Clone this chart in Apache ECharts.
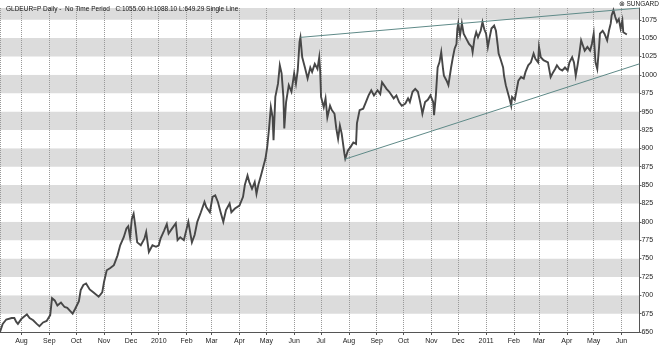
<!DOCTYPE html>
<html><head><meta charset="utf-8">
<script src="https://cdn.jsdelivr.net/npm/echarts@6/dist/echarts.min.js"></script>
<style>html,body{margin:0;padding:0;background:#fff}#c{width:660px;height:347px}</style>
</head><body><div id="c"></div>
<script>
const dates = [
'2009-07-08','2009-07-11','2009-07-15','2009-07-21','2009-07-24','2009-07-26','2009-07-28',
'2009-08-01','2009-08-07','2009-08-10','2009-08-14','2009-08-18','2009-08-21','2009-08-25','2009-08-29',
'2009-09-02','2009-09-04','2009-09-07','2009-09-10','2009-09-14','2009-09-18','2009-09-21','2009-09-27','2009-09-30',
'2009-10-04','2009-10-06','2009-10-09','2009-10-12','2009-10-16','2009-10-20','2009-10-26','2009-10-30',
'2009-11-01','2009-11-04','2009-11-08','2009-11-12','2009-11-16','2009-11-19','2009-11-23','2009-11-26','2009-11-28','2009-11-30',
'2009-12-02','2009-12-04','2009-12-06','2009-12-08','2009-12-12','2009-12-16','2009-12-18','2009-12-21','2009-12-25','2009-12-29',
'2010-01-01','2010-01-03','2010-01-07','2010-01-10','2010-01-12','2010-01-16','2010-01-20','2010-01-22','2010-01-25','2010-01-29',
'2010-02-03','2010-02-07','2010-02-10','2010-02-13','2010-02-17','2010-02-21','2010-02-23','2010-02-27',
'2010-03-02','2010-03-05','2010-03-08','2010-03-11','2010-03-14','2010-03-17','2010-03-21','2010-03-23','2010-03-27',
'2010-04-01','2010-04-05','2010-04-07','2010-04-10','2010-04-12','2010-04-15','2010-04-18','2010-04-20','2010-04-22','2010-04-25','2010-04-28','2010-04-30',
'2010-05-02','2010-05-04','2010-05-06','2010-05-08','2010-05-09','2010-05-11','2010-05-14','2010-05-16','2010-05-18','2010-05-20','2010-05-21','2010-05-23','2010-05-26','2010-05-29',
'2010-06-01','2010-06-03','2010-06-05','2010-06-07','2010-06-08','2010-06-10','2010-06-13','2010-06-16','2010-06-19','2010-06-21','2010-06-24','2010-06-27','2010-06-29','2010-06-30',
'2010-07-01','2010-07-02','2010-07-04','2010-07-06','2010-07-08','2010-07-11','2010-07-13','2010-07-16','2010-07-18','2010-07-20','2010-07-22','2010-07-24','2010-07-27','2010-07-28','2010-07-31',
'2010-08-03','2010-08-06','2010-08-09','2010-08-10','2010-08-13','2010-08-17','2010-08-20','2010-08-23','2010-08-26','2010-08-29',
'2010-09-02','2010-09-05','2010-09-07','2010-09-09','2010-09-12','2010-09-15','2010-09-17','2010-09-20','2010-09-23','2010-09-26','2010-09-29','2010-09-30',
'2010-10-03','2010-10-06','2010-10-08','2010-10-11','2010-10-14','2010-10-17','2010-10-19','2010-10-21','2010-10-22','2010-10-25','2010-10-28','2010-10-31',
'2010-11-03','2010-11-04','2010-11-06','2010-11-08','2010-11-10','2010-11-12','2010-11-14','2010-11-15','2010-11-18','2010-11-20','2010-11-23','2010-11-25','2010-11-27','2010-11-29','2010-11-30',
'2010-12-01','2010-12-03','2010-12-05','2010-12-07','2010-12-10','2010-12-13','2010-12-16','2010-12-17','2010-12-19','2010-12-21','2010-12-23','2010-12-26','2010-12-28','2010-12-30',
'2011-01-01','2011-01-03','2011-01-05','2011-01-07','2011-01-10','2011-01-12','2011-01-14','2011-01-15','2011-01-17','2011-01-20','2011-01-21','2011-01-23','2011-01-25','2011-01-27','2011-01-29','2011-01-30',
'2011-02-02','2011-02-04','2011-02-06','2011-02-09','2011-02-12','2011-02-14','2011-02-17','2011-02-20','2011-02-23','2011-02-25','2011-02-28',
'2011-03-01','2011-03-03','2011-03-06','2011-03-08','2011-03-11','2011-03-14','2011-03-17','2011-03-19','2011-03-21','2011-03-24','2011-03-27','2011-03-30',
'2011-04-02','2011-04-04','2011-04-07','2011-04-09','2011-04-11','2011-04-13','2011-04-15','2011-04-17','2011-04-19','2011-04-21','2011-04-24','2011-04-27','2011-04-29',
'2011-05-01','2011-05-03','2011-05-05','2011-05-07','2011-05-08','2011-05-11','2011-05-13','2011-05-16','2011-05-18','2011-05-20','2011-05-21','2011-05-23','2011-05-25','2011-05-27','2011-05-29','2011-05-31',
'2011-06-02','2011-06-03','2011-06-05','2011-06-07'
];
const prices = [
650,661,667,669,669,664,661,
668,674,669,666,661,658,663,665,
673,696,693,686,690,684,683,675,682,
692,707,714,716,708,704,698,704,
718,734,737,741,754,768,779,791,794,779,
804,811,793,772,768,777,786,759,768,766,
768,777,788,797,784,791,798,775,779,775,
800,772,782,800,813,827,820,813,
834,836,827,813,800,816,825,813,818,
822,834,850,863,854,845,854,838,850,863,877,886,
902,927,956,942,911,970,988,1013,1002,970,927,963,986,977,
1002,988,1006,1045,1051,1024,1010,995,1010,1004,1015,1008,1024,1006,
970,968,956,968,942,958,952,947,927,913,931,920,893,886,897,
902,908,906,934,952,954,963,972,979,972,
979,974,990,992,981,977,979,968,972,963,958,956,
961,968,963,977,981,977,966,954,947,963,966,972,
963,945,972,1010,1017,1031,1008,999,992,986,1010,1024,1036,1042,1063,
1070,1054,1070,1056,1049,1042,1038,1031,1049,1058,1051,1060,1072,1062,
1056,1038,1051,1063,1067,1060,1040,1029,1022,1010,999,986,977,968,958,970,
966,979,992,997,995,1004,1013,1017,1029,1022,1017,
1038,1024,1020,1022,1017,997,1004,1008,1013,1008,1006,1010,
1006,1017,1024,1017,999,1013,1029,1047,1040,1033,1038,1033,1042,
1056,1017,1008,1038,1056,1060,1056,1047,1060,1070,1081,1088,1079,1072,1076,1063,
1074,1058,1060,1055
];
const upperTrendDates = ['2010-06-08', '2011-06-21'];
const upperTrendValues = [1051, 1091];
const lowerTrendDates = ['2010-07-27', '2011-06-21'];
const lowerTrendValues = [885, 1015];
const monthLabels = ['Jan','Feb','Mar','Apr','May','Jun','Jul','Aug','Sep','Oct','Nov','Dec'];
const titleText = 'GLDEUR=P Daily -  No Time Period   C:1055.00 H:1088.10 L:649.29 Single Line';
const brandText = '\u2297 SUNGARD';
const yMin = 650, yMax = 1091, yStep = 25;
const xMin = '2009-07-08', xMax = '2011-06-21';

const FONT = '"Liberation Sans", Arial, sans-serif';
const DAY = 86400000;
const chart = echarts.init(document.getElementById('c'), null, {renderer: 'canvas'});
chart.setOption({
  animation: false,
  backgroundColor: '#ffffff',
  title: {
    text: titleText, left: 1, top: 1,
    textStyle: {fontSize: 6.5, fontWeight: 'normal', color: '#111', fontFamily: FONT}
  },
  graphic: [{
    type: 'text', right: 1, top: 1,
    style: {text: brandText, fontSize: 6.5, fill: '#222', fontFamily: FONT}
  }],
  grid: {left: 0, right: 20, top: 8, bottom: 15, containLabel: false},
  xAxis: {
    type: 'time',
    min: xMin, max: xMax,
    splitNumber: 23,
    minInterval: 28 * DAY,
    maxInterval: 32 * DAY,
    axisLine: {show: true, lineStyle: {color: '#555', width: 1}},
    axisTick: {show: true, length: 3, lineStyle: {color: '#555'}},
    axisLabel: {
      show: true, margin: 6, fontSize: 7, color: '#222', fontFamily: FONT,
      showMinLabel: false, showMaxLabel: false, hideOverlap: false,
      formatter: function (v) {
        const d = new Date(v);
        if (d.getDate() !== 1) return '';
        return d.getMonth() === 0 ? String(d.getFullYear()) : monthLabels[d.getMonth()];
      }
    },
    splitLine: {show: true, lineStyle: {color: '#999', type: 'dotted', width: 1}}
  },
  yAxis: {
    type: 'value', position: 'right',
    min: yMin, max: yMax, interval: yStep,
    axisLine: {show: true, lineStyle: {color: '#555', width: 1}},
    axisTick: {show: true, length: 2, lineStyle: {color: '#555'}},
    axisLabel: {
      show: true, margin: 2, fontSize: 7, color: '#222', fontFamily: FONT,
      showMaxLabel: false,
      formatter: function (v) { return (v - yMin) % yStep === 0 ? String(v) : ''; }
    },
    splitLine: {show: false},
    splitArea: {show: true, areaStyle: {color: ['#ffffff', '#dcdcdc']}}
  },
  series: [
    {
      type: 'line', name: 'GLDEUR=P',
      data: dates.map((d, i) => [d, prices[i]]),
      showSymbol: false, symbol: 'none',
      lineStyle: {color: '#474747', width: 1.9, join: 'miter'},
      z: 3
    },
    {
      type: 'line', name: 'upper',
      data: upperTrendDates.map((d, i) => [d, upperTrendValues[i]]),
      showSymbol: false, symbol: 'none',
      lineStyle: {color: '#5f8a88', width: 1},
      z: 4
    },
    {
      type: 'line', name: 'lower',
      data: lowerTrendDates.map((d, i) => [d, lowerTrendValues[i]]),
      showSymbol: false, symbol: 'none',
      lineStyle: {color: '#5f8a88', width: 1},
      z: 4
    }
  ]
});
</script></body></html>
